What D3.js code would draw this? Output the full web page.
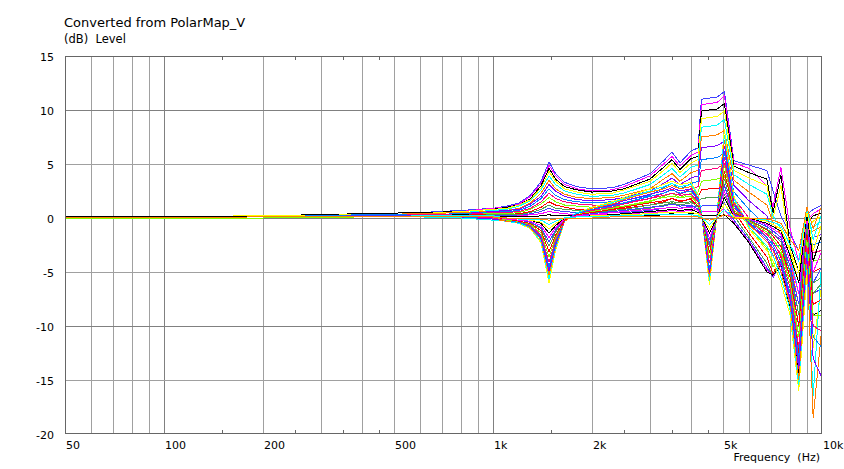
<!DOCTYPE html>
<html><head><meta charset="utf-8">
<script src="https://cdn.jsdelivr.net/npm/d3@7"></script>
<style>body{margin:0;background:#fff}svg{display:block}</style>
</head><body><svg id="c" width="844" height="469"></svg>
<script>
// ---- data ----
const freqHz = [50,200,400,600,800,1000,1100,1200,1300,1400,1480,1550,1650,1800,2000,2300,2500,3000,3300,3500,3700,4000,4200,4300,4550,4800,5050,5400,6000,6800,7100,7500,8000,8500,9000,9400,10000];
const xTickValues = [50,100,200,500,1000,2000,5000,10000];
const xTickLabels = ["50","100","200","500","1k","2k","5k","10k"];
const xGridValues = [60,70,80,90,100,200,300,400,500,600,700,800,900,1000,2000,3000,4000,5000,6000,7000,8000,9000];
const xMajorGrid = [100,1000];
const xMinorTicks = [150,250,350,450,1500,2500,3500,4500];
const yTickValues = [15,10,5,0,-5,-10,-15,-20];
const yMajorGrid = [10,0,-10];
const lineColors = ["#4040ff","#ff00ff","#000000","#ffff00","#00ffff","#ff8000","#8000ff","#0080ff","#ff0080","#80ff00","#ff0000","#50a050"];

// upper family (rising at 1.5k and 4.3-5k)
const upperCurves = [
[0.1,0.2,0.4,0.5,0.7,0.9,1.1,1.4,2.1,3.4,5.2,4.1,3.3,2.9,2.7,2.8,3.1,4.1,5.3,6.1,5.1,6.2,6.5,11.0,11.1,11.2,11.7,5.3,4.9,4.4,2.5,0.2,-1.5,-3.0,0.3,0.8,1.2],
[0.1,0.2,0.4,0.5,0.6,0.9,1.0,1.3,2.0,3.2,4.9,3.9,3.1,2.7,2.5,2.6,2.9,3.9,5.0,5.7,4.8,5.8,6.1,10.5,10.6,10.7,11.3,5.1,4.6,3.0,1.0,4.7,-1.0,-4.0,-0.2,0.4,0.9],
[0.1,0.2,0.4,0.5,0.6,0.8,1.0,1.2,1.8,3.0,4.6,3.6,2.9,2.6,2.4,2.5,2.7,3.6,4.7,5.4,4.5,5.5,5.7,9.9,10.0,10.1,10.6,4.8,4.2,3.6,0.5,4.0,-2.5,-5.0,-0.5,0.2,0.5],
[0.1,0.2,0.3,0.4,0.6,0.8,0.9,1.2,1.7,2.8,4.3,3.4,2.7,2.4,2.2,2.3,2.6,3.4,4.4,5.1,4.2,5.1,5.4,9.2,9.3,9.4,9.9,4.4,3.7,3.0,0.0,3.0,-3.0,-6.0,-1.0,-0.3,0.2],
[0.1,0.1,0.3,0.4,0.5,0.7,0.8,1.1,1.6,2.6,3.9,3.1,2.5,2.2,2.0,2.1,2.3,3.1,4.0,4.6,3.8,4.7,4.9,8.4,8.5,8.6,9.1,4.0,3.1,2.2,0.2,-1.0,-3.5,-7.0,-1.2,-0.8,-0.3],
[0.1,0.1,0.3,0.4,0.5,0.6,0.7,0.9,1.4,2.3,3.5,2.7,2.2,1.9,1.8,1.9,2.1,2.7,3.6,4.1,3.4,4.2,4.4,7.5,7.6,7.7,8.1,3.5,2.4,1.2,-0.5,-1.5,-4.0,-8.0,-1.5,-1.2,-0.8],
[0.1,0.1,0.3,0.3,0.4,0.6,0.7,0.8,1.3,2.0,3.1,2.5,2.0,1.7,1.6,1.7,1.9,2.5,3.2,3.7,3.1,3.7,3.9,6.5,6.6,6.7,7.1,3.0,1.6,0.2,-1.5,-2.0,-4.5,-9.0,-1.8,-1.8,-1.5],
[0.1,0.1,0.3,0.3,0.4,0.5,0.6,0.7,1.1,1.8,2.7,2.1,1.7,1.5,1.4,1.5,1.6,2.1,2.8,3.2,2.7,3.2,3.4,5.4,5.5,5.6,6.0,2.4,0.8,-0.8,-2.5,-2.5,-5.0,-10.0,-2.0,-2.5,-2.2],
[0.1,0.1,0.2,0.3,0.3,0.5,0.5,0.6,0.9,1.5,2.3,1.8,1.5,1.3,1.2,1.2,1.4,1.8,2.3,2.7,2.2,2.7,2.9,4.4,4.5,4.6,5.0,1.8,0.0,-1.8,-3.5,-3.0,-5.5,-11.0,-1.5,-3.2,-3.0],
[0.1,0.1,0.2,0.2,0.3,0.4,0.4,0.5,0.8,1.3,1.9,1.5,1.2,1.1,1.0,1.0,1.1,1.5,2.0,2.3,1.9,2.3,2.4,3.4,3.5,3.6,3.9,1.2,-0.8,-2.8,-4.5,-3.2,-6.0,-12.0,-1.0,-4.0,-3.8],
[0.1,0.1,0.2,0.2,0.3,0.3,0.3,0.4,0.6,1.0,1.5,1.2,1.0,0.8,0.8,0.8,0.9,1.2,1.5,1.8,1.5,1.8,1.9,2.6,2.7,2.7,3.0,0.6,-1.4,-3.6,-5.2,-3.5,-6.5,-12.5,-0.5,-5.0,-4.6],
[0.1,0.1,0.2,0.2,0.2,0.3,0.3,0.3,0.5,0.8,1.2,0.9,0.8,0.7,0.6,0.6,0.7,0.9,1.2,1.4,1.2,1.4,1.5,1.8,1.9,1.9,2.2,0.2,-1.8,-4.2,-5.5,-3.8,-7.0,-13.0,0.0,-6.0,-5.5],
[0.1,0.1,0.2,0.2,0.2,0.2,0.2,0.2,0.4,0.6,0.9,0.7,0.6,0.5,0.5,0.5,0.5,0.7,0.9,1.0,0.9,1.1,1.1,1.1,1.2,1.2,1.4,-0.2,-2.0,-4.6,-5.5,-4.0,-7.5,-13.5,0.2,-7.0,-6.5],
[0.1,0.1,0.1,0.2,0.2,0.2,0.1,0.2,0.3,0.4,0.6,0.5,0.4,0.3,0.3,0.3,0.4,0.5,0.6,0.7,0.6,0.7,0.8,0.6,0.6,0.6,0.8,-0.4,-2.2,-4.8,-5.4,-4.2,-8.0,-14.0,0.0,-8.0,-7.5],
[0.1,0.1,0.1,0.1,0.1,0.1,0.1,0.1,0.1,0.2,0.3,0.2,0.2,0.2,0.2,0.2,0.2,0.2,0.3,0.4,0.3,0.4,0.4,0.2,0.2,0.2,0.3,-0.5,-2.3,-5.0,-5.3,-4.4,-8.5,-14.5,-0.3,-9.0,-8.5]
];
// lower family (dipping at 1.5k and 4.5k)
const lowerCurves = [
[0.0,0.0,0.1,0.1,0.0,-0.2,-0.3,-0.5,-1.0,-2.3,-6.0,-3.0,-0.3,0.5,1.0,1.5,1.9,2.7,3.1,3.4,3.1,3.3,2.2,0.5,-6.2,0.5,8.2,2.0,-1.0,-3.0,-4.0,-6.0,-9.0,-16.0,-5.0,-12.0,-6.0],
[0.0,0.0,0.1,0.1,0.0,-0.2,-0.3,-0.5,-0.9,-2.2,-5.6,-2.8,-0.3,0.5,0.9,1.4,1.8,2.5,2.9,3.2,2.9,3.1,2.1,0.5,-5.8,0.5,7.7,1.8,-0.8,-2.6,-3.5,-5.5,-8.5,-15.5,-4.0,-16.5,-3.5],
[0.0,0.0,0.1,0.1,0.1,-0.1,-0.3,-0.4,-0.9,-2.0,-5.3,-2.6,-0.3,0.4,0.9,1.3,1.7,2.4,2.7,3.0,2.7,2.9,1.9,0.4,-5.5,0.4,7.2,1.5,-0.6,-2.2,-3.0,-5.0,-8.0,-15.0,-3.5,-18.5,-10.0],
[0.0,0.0,0.1,0.1,0.1,-0.1,-0.2,-0.4,-0.8,-1.9,-4.9,-2.5,-0.2,0.4,0.8,1.2,1.6,2.2,2.5,2.8,2.5,2.7,1.8,0.4,-5.1,0.4,6.7,1.3,-0.5,-2.0,-2.8,-4.5,-7.5,-14.0,-3.0,-13.0,-14.8],
[0.0,0.0,0.1,0.1,0.1,0.0,-0.2,-0.4,-0.8,-1.7,-4.5,-2.3,-0.2,0.4,0.8,1.1,1.4,2.0,2.3,2.6,2.3,2.5,1.7,0.4,-4.7,0.4,6.2,1.1,-0.4,-1.8,-2.5,-4.0,-7.0,-13.0,-2.5,-11.0,-12.0],
[0.0,0.0,0.1,0.2,0.2,0.0,-0.2,-0.3,-0.7,-1.6,-4.1,-2.0,-0.2,0.3,0.7,1.0,1.3,1.8,2.1,2.3,2.1,2.2,1.5,0.3,-4.2,0.3,5.6,0.9,-0.3,-1.5,-2.2,-3.5,-6.5,-12.0,-2.0,-10.0,-10.5],
[0.0,0.0,0.1,0.2,0.2,0.1,-0.2,-0.3,-0.6,-1.4,-3.6,-1.8,-0.2,0.3,0.6,0.9,1.1,1.6,1.9,2.0,1.9,2.0,1.3,0.3,-3.7,0.3,4.9,0.7,-0.3,-1.3,-2.0,-3.0,-6.0,-11.0,-1.5,-9.0,-9.0],
[0.0,0.1,0.1,0.2,0.2,0.1,-0.1,-0.3,-0.5,-1.2,-3.1,-1.6,-0.2,0.3,0.5,0.8,1.0,1.4,1.6,1.8,1.6,1.7,1.1,0.3,-3.2,0.3,4.3,0.5,-0.2,-1.1,-1.7,-2.6,-5.5,-10.0,-1.0,-8.0,-7.5],
[0.0,0.1,0.1,0.2,0.3,0.2,-0.1,-0.2,-0.4,-1.0,-2.6,-1.3,-0.1,0.2,0.4,0.7,0.8,1.2,1.4,1.5,1.4,1.5,1.0,0.2,-2.7,0.2,3.6,0.4,-0.2,-1.0,-1.5,-2.2,-5.0,-9.0,-0.5,-7.0,-6.0],
[0.0,0.1,0.1,0.2,0.3,0.2,-0.1,-0.2,-0.4,-0.9,-2.2,-1.1,-0.1,0.2,0.4,0.6,0.7,1.0,1.1,1.3,1.1,1.2,0.8,0.2,-2.3,0.2,3.0,0.3,-0.1,-0.8,-1.2,-1.8,-4.5,-8.0,0.0,-6.0,-4.5],
[0.0,0.1,0.1,0.2,0.3,0.2,-0.1,-0.2,-0.3,-0.7,-1.8,-0.9,-0.1,0.2,0.3,0.5,0.6,0.8,0.9,1.0,0.9,1.0,0.7,0.2,-1.9,0.2,2.5,0.2,-0.1,-0.6,-1.0,-1.5,-4.0,-7.0,0.3,-5.0,-3.0],
[0.0,0.1,0.1,0.2,0.3,0.2,0.0,-0.1,-0.2,-0.5,-1.4,-0.7,0.0,0.1,0.2,0.3,0.4,0.6,0.7,0.8,0.7,0.8,0.5,0.1,-1.4,0.1,1.9,0.1,0.0,-0.5,-0.8,-1.2,-3.5,-6.0,0.5,-4.0,-1.5],
[0.0,0.1,0.1,0.2,0.2,0.2,0.0,-0.1,-0.2,-0.4,-1.0,-0.5,0.0,0.1,0.2,0.2,0.3,0.4,0.5,0.5,0.5,0.5,0.4,0.1,-1.0,0.1,1.3,0.1,0.0,-0.3,-0.6,-1.0,-3.0,-5.0,0.8,-3.0,-0.5],
[0.0,0.1,0.1,0.2,0.2,0.2,0.0,-0.1,-0.1,-0.2,-0.6,-0.3,0.0,0.1,0.1,0.2,0.2,0.3,0.3,0.3,0.3,0.3,0.2,0.1,-0.6,0.1,0.8,0.0,0.0,-0.2,-0.4,-0.7,-2.5,-4.0,1.0,-2.0,0.5],
[0.0,0.1,0.1,0.1,0.1,0.1,0.0,0.0,0.0,-0.1,-0.2,-0.1,0.0,0.0,0.0,0.1,0.1,0.1,0.1,0.1,0.1,0.1,0.1,0.0,-0.2,0.0,0.3,0.0,0.0,-0.1,-0.2,-0.5,-2.0,-3.0,1.0,-1.0,1.2]
];

// ---- drawing ----
const svg = d3.select("#c");
const L = 65, R = 822, T = 56, B = 434;
const x = d3.scaleLog().domain([50, 10000]).range([L, R]);
const y = d3.scaleLinear().domain([-20, 15]).range([B, T]);
const font = "'DejaVu Sans', Verdana, sans-serif";
const px = v => Math.round(v) + 0.5;

svg.append("rect").attr("width", 844).attr("height", 469).attr("fill", "#fff");

const grid = svg.append("g");
grid.selectAll("line.v").data(xGridValues).join("line")
  .attr("x1", d => px(x(d))).attr("x2", d => px(x(d)))
  .attr("y1", T).attr("y2", B)
  .attr("stroke", d => xMajorGrid.includes(d) ? "#808080" : "#a0a0a0").attr("stroke-width", 1);
grid.selectAll("line.h").data(yTickValues.filter(v => v > -20 && v < 15)).join("line")
  .attr("y1", d => px(y(d))).attr("y2", d => px(y(d)))
  .attr("x1", L).attr("x2", R)
  .attr("stroke", d => yMajorGrid.includes(d) ? "#808080" : "#a0a0a0").attr("stroke-width", 1);

// minor ticks top & bottom
const mt = svg.append("g").attr("stroke", "#666");
mt.selectAll("line.b").data(xMinorTicks).join("line")
  .attr("x1", d => px(x(d))).attr("x2", d => px(x(d))).attr("y1", B - 4).attr("y2", B);
mt.selectAll("line.t").data(xMinorTicks).join("line").attr("class","t")
  .attr("x1", d => px(x(d))).attr("x2", d => px(x(d))).attr("y1", T).attr("y2", T + 4);

// curves
const line = d3.line().x((d, i) => x(freqHz[i])).y(d => y(d));
const curves = svg.append("g").attr("fill", "none").attr("stroke-width", 1)
  .attr("shape-rendering", "crispEdges");
upperCurves.forEach((vals, k) => {
  curves.append("path").attr("d", line(vals)).attr("stroke", lineColors[k % lineColors.length]);
});
lowerCurves.forEach((vals, k) => {
  curves.append("path").attr("d", line(vals)).attr("stroke", lineColors[(k + 3) % lineColors.length]);
});

// frame
svg.append("rect").attr("x", L + 0.5).attr("y", T + 0.5).attr("width", R - L - 1).attr("height", B - T - 1)
  .attr("fill", "none").attr("stroke", "#666");

// axis labels
const tx = svg.append("g").attr("font-family", font).attr("font-size", "11px").attr("fill", "#000");
tx.selectAll("text.x").data(xTickValues).join("text")
  .attr("x", d => x(d) + 1).attr("y", 449).text((d, i) => xTickLabels[i]);
const ty = svg.append("g").attr("font-family", font).attr("font-size", "11px").attr("fill", "#000");
ty.selectAll("text").data(yTickValues).join("text")
  .attr("x", 54).attr("y", d => y(d) + 4.5).attr("text-anchor", "end").text(d => d);

svg.append("text").attr("x", 64).attr("y", 26.5).attr("font-family", font).attr("font-size", "13px")
  .text("Converted from PolarMap_V");
svg.append("text").attr("x", 64).attr("y", 42.5).attr("font-family", font).attr("font-size", "11.5px")
  .style("white-space", "pre").text("(dB)  Level");
svg.append("text").attr("x", 820).attr("y", 461).attr("font-family", font).attr("font-size", "11px")
  .attr("text-anchor", "end").style("white-space", "pre").text("Frequency  (Hz)");
</script></body></html>
